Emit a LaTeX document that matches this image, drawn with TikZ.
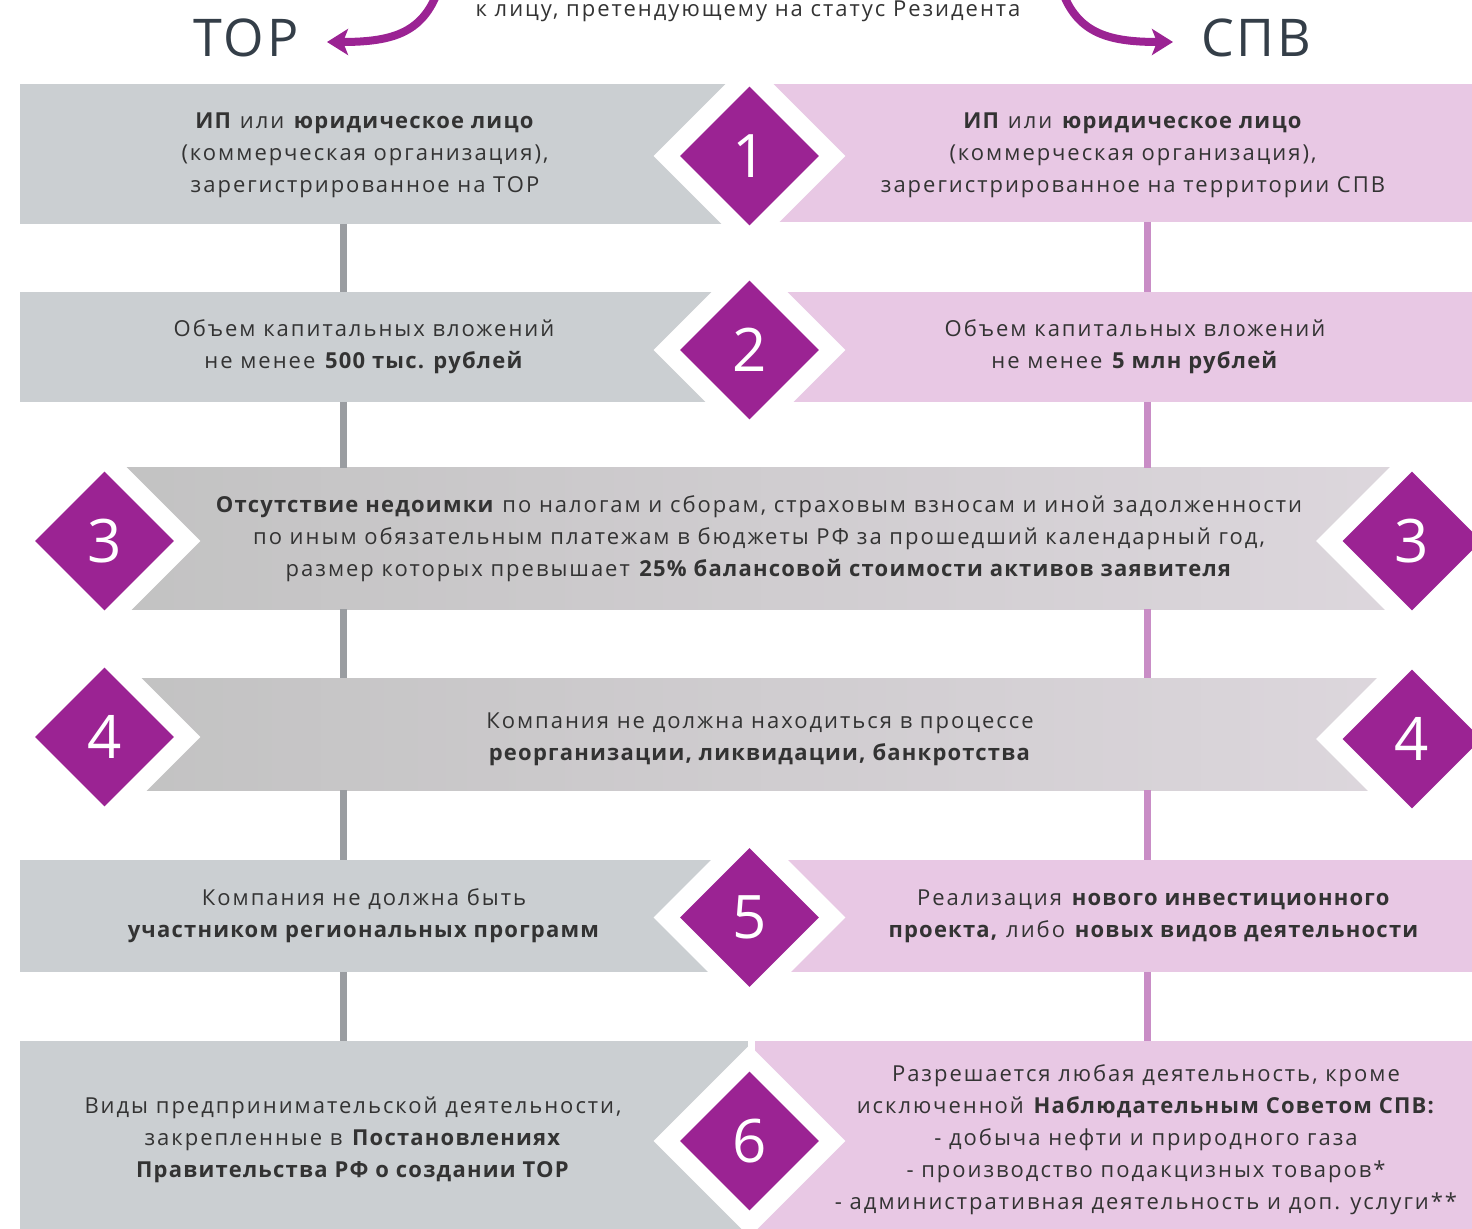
\documentclass[tikz,border=0pt]{standalone}
\usepackage{fontspec}
\setmainfont{Open Sans}[LetterSpace=9, BoldFeatures={LetterSpace=5.5}]
\newfontfamily\numfont{Open Sans}
\newfontfamily\headfont{Open Sans}[LetterSpace=5]
\usetikzlibrary{shapes.geometric,arrows.meta}
\definecolor{purp}{HTML}{9B2393}
\definecolor{greyp}{HTML}{CBCFD2}
\definecolor{pinkp}{HTML}{E8C8E4}
\definecolor{bandL}{HTML}{C2C2C2}
\definecolor{bandR}{HTML}{DDD7DD}
\definecolor{conG}{HTML}{9A9DA1}
\definecolor{conP}{HTML}{C98DC6}
\definecolor{txt}{HTML}{333333}
\definecolor{head}{HTML}{343E48}
\tikzset{
  panel/.style={rectangle, inner sep=0pt, outer sep=0pt},
  lpanel/.style={panel, fill=greyp},
  rpanel/.style={panel, fill=pinkp},
  band/.style={panel, left color=bandL, right color=bandR},
  wdia/.style={diamond, fill=white, inner sep=0pt, minimum width=96pt, minimum height=96pt},
  pdia/.style={diamond, fill=purp, inner sep=0pt, minimum width=69.5pt, minimum height=69.5pt, text=white, font=\numfont\fontsize{30}{30}\selectfont},
  ttext/.style={align=center, text=txt, font=\fontsize{11}{16}\selectfont, inner sep=0pt},
  conl/.style={draw=conG, line width=3.5pt},
  conr/.style={draw=conP, line width=3.5pt},
  arrowc/.style={draw=purp, line width=4pt, -{Stealth[length=10.5pt,width=13pt,inset=2.5pt]}},
  headtxt/.style={text=head, font=\headfont\fontsize{26}{26}\selectfont, inner sep=0pt, anchor=base}
}
\begin{document}
\begin{tikzpicture}[x=0.5pt,y=-0.5pt]
\useasboundingbox (0,0) rectangle (1472,1229);
\clip (0,0) rectangle (1472,1229);
\coordinate (cL) at (343,0);
\coordinate (cR) at (1147,0);
% top
\node[text=txt, font=\fontsize{11}{16}\selectfont, inner sep=0pt, anchor=base] (top) at (748,17) {к лицу, претендующему на статус Резидента};
\node[headtxt] (tor) at (246,57) {ТОР};
\node[headtxt] (spv) at (1256,57) {СПВ};
\coordinate (aLs) at (440,-15);
\coordinate (aLe) at (327,42);
\coordinate (aRs) at (1060,-15);
\coordinate (aRe) at (1173,42);
\draw[arrowc] (aLs) .. controls (425,32) and (395,42) .. (aLe);
\draw[arrowc] (aRs) .. controls (1075,32) and (1105,42) .. (aRe);
% row 1
\node[lpanel, minimum width=365pt, minimum height=70pt] (p1L) at (385,154) {};
\node[rpanel, minimum width=361pt, minimum height=69pt] (p1R) at (1111,153) {};
% row 2
\node[lpanel, minimum width=365pt, minimum height=55pt] (p2L) at (385,347) {};
\node[rpanel, minimum width=361pt, minimum height=55pt] (p2R) at (1111,347) {};
% row 3
\node[band, minimum width=660pt, minimum height=70.5pt] (p3) at (760,538.5) {};
% row 4
\node[band, minimum width=660pt, minimum height=56pt] (p4) at (760,734) {};
% row 5
\node[lpanel, minimum width=365pt, minimum height=56pt] (p5L) at (385,916) {};
\node[rpanel, minimum width=361pt, minimum height=56pt] (p5R) at (1111,916) {};
% row 6
\node[lpanel, minimum width=364pt, minimum height=94pt] (p6L) at (384,1135) {};
\node[rpanel, minimum width=358.5pt, minimum height=94pt] (p6R) at (1113.5,1135) {};
% connectors
\foreach \a/\b in {p1L/p2L,p2L/p3,p3/p4,p4/p5L,p5L/p6L}{
  \draw[conl] (\a.south -| cL) -- (\b.north -| cL);
}
\foreach \a/\b in {p1R/p2R,p2R/p3,p3/p4,p4/p5R,p5R/p6R}{
  \draw[conr] (\a.south -| cR) -- (\b.north -| cR);
}
% diamonds
\node[wdia] (w1) at (749.5,156) {};
\node[pdia] (d1) at (749.5,156) {1};
\node[wdia] (w2) at (749.5,350) {};
\node[pdia] (d2) at (749.5,350) {2};
\node[wdia] (w3a) at (104.5,541) {};
\node[pdia] (d3a) at (104.5,541) {3};
\node[wdia] (w3b) at (1412,541) {};
\node[pdia] (d3b) at (1412,541) {3};
\node[wdia] (w4a) at (104.5,737) {};
\node[pdia] (d4a) at (104.5,737) {4};
\node[wdia] (w4b) at (1412,739) {};
\node[pdia] (d4b) at (1412,739) {4};
\node[wdia] (w5) at (749.5,917.5) {};
\node[pdia] (d5) at (749.5,917.5) {5};
\node[wdia] (w6) at (749.5,1141) {};
\node[pdia] (d6) at (749.5,1141) {6};
% texts
\node[ttext] (t1L) at (365,155) {\textbf{ИП} или \textbf{юридическое лицо}\\(коммерческая организация),\\зарегистрированное на ТОР};
\node[ttext] (t1R) at (1133,155) {\textbf{ИП} или \textbf{юридическое лицо}\\(коммерческая организация),\\зарегистрированное на территории СПВ};
\node[ttext] (t2L) at (364,347) {Объем капитальных вложений\\не менее \textbf{500 тыс. рублей}};
\node[ttext] (t2R) at (1135,347) {Объем капитальных вложений\\не менее \textbf{5 млн рублей}};
\node[ttext] (t3) at (759,539) {\textbf{Отсутствие недоимки} по налогам и сборам, страховым взносам и иной задолженности\\по иным обязательным платежам в бюджеты РФ за прошедший календарный год,\\размер которых превышает \textbf{25\% балансовой стоимости активов заявителя}};
\node[ttext] (t4) at (760,739) {Компания не должна находиться в процессе\\\textbf{реорганизации, ликвидации, банкротства}};
\node[ttext] (t5L) at (364,916) {Компания не должна быть\\\textbf{участником региональных программ}};
\node[ttext] (t5R) at (1154,916) {Реализация \textbf{нового инвестиционного}\\\textbf{проекта,} либо \textbf{новых видов деятельности}};
\node[ttext] (t6L) at (353,1140) {Виды предпринимательской деятельности,\\закрепленные в \textbf{Постановлениях}\\\textbf{Правительства РФ о создании ТОР}};
\node[ttext] (t6R) at (1146,1140) {Разрешается любая деятельность, кроме\\исключенной \textbf{Наблюдательным Советом СПВ:}\\- добыча нефти и природного газа\\- производство подакцизных товаров*\\- административная деятельность и доп. услуги**};
\end{tikzpicture}
\end{document}
